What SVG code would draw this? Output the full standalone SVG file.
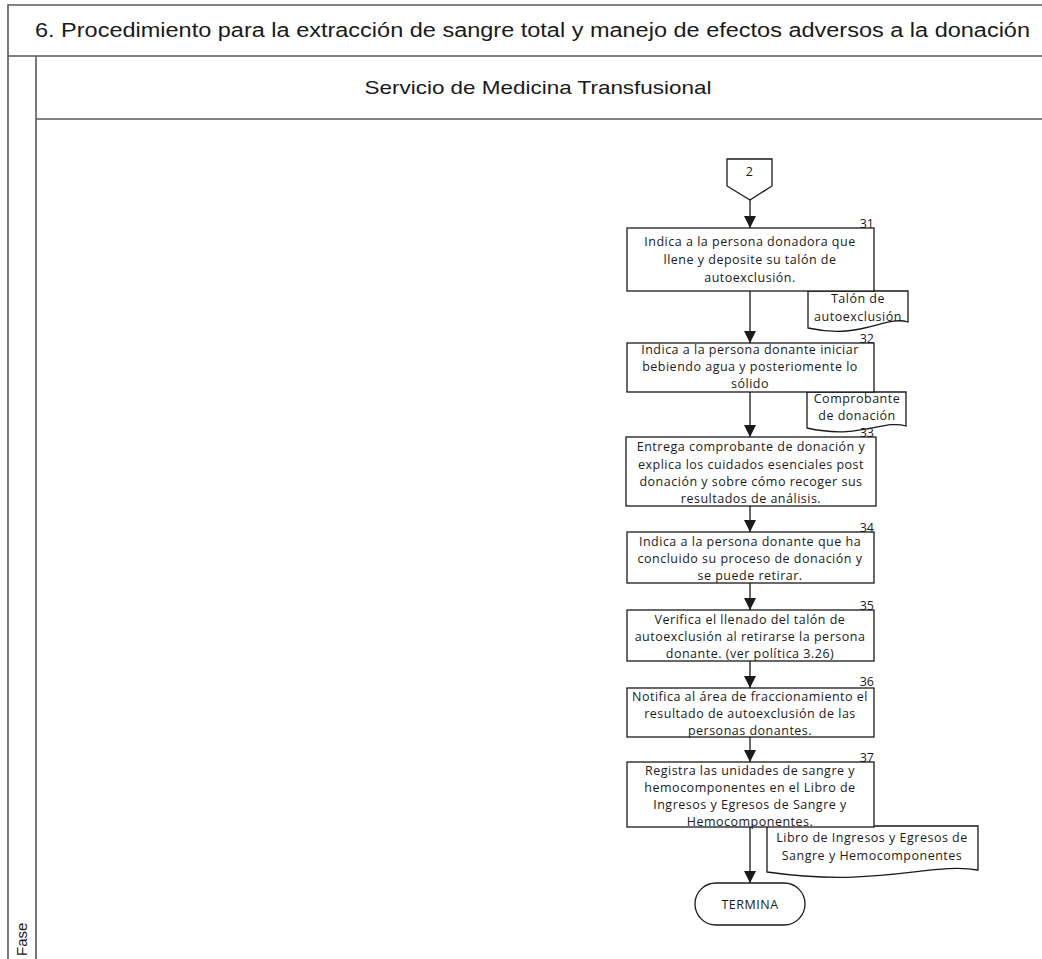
<svg xmlns="http://www.w3.org/2000/svg" width="1042" height="959" viewBox="0 0 1042 959">
<style>
.frame{fill:none;stroke:#595959;stroke-width:1.6}
.box{fill:#fff;stroke:#1a1a1a;stroke-width:1.3}
.doc{fill:#fff;stroke:#1a1a1a;stroke-width:1.3}
.t{font-family:"Open Sans","DejaVu Sans",sans-serif;font-size:12.5px;letter-spacing:0.5px;fill:#1a1a1a;text-anchor:middle}
.n{font-family:"Open Sans","DejaVu Sans",sans-serif;font-size:12.5px;fill:#1a1a1a;text-anchor:end}
.h{font-family:"Liberation Sans",Arial,sans-serif;fill:#1a1a1a}
.c{stroke:#1a1a1a;stroke-width:1.3;fill:none;marker-end:url(#ah)}
</style>
<defs>
<marker id="ah" viewBox="0 0 12 12" refX="12" refY="6" markerWidth="12" markerHeight="12" markerUnits="userSpaceOnUse" orient="auto">
<path d="M0,0 L12,6 L0,12 Z" fill="#1a1a1a"/>
</marker>
</defs>
<rect width="1042" height="959" fill="#fff"/>
<g id="pool">
<path class="frame" d="M8,959 V5 H1042 M8,56 H1042 M36,56 V959 M36,119 H1042"/>
<text class="h" x="35" y="37" font-size="20" textLength="995" lengthAdjust="spacingAndGlyphs">6. Procedimiento para la extracción de sangre total y manejo de efectos adversos a la donación</text>
<text class="h" x="538" y="94" font-size="19" text-anchor="middle" textLength="347" lengthAdjust="spacingAndGlyphs">Servicio de Medicina Transfusional</text>
<text class="h" x="0" y="0" font-size="15" transform="translate(27,956) rotate(-90)">Fase</text>
</g>
<g id="connectors">
<line class="c" x1="750" y1="200" x2="750" y2="228"/>
<line class="c" x1="750" y1="291" x2="750" y2="343"/>
<line class="c" x1="750" y1="392" x2="750" y2="437"/>
<line class="c" x1="750" y1="506" x2="750" y2="532"/>
<line class="c" x1="750" y1="583" x2="750" y2="610"/>
<line class="c" x1="750" y1="661" x2="750" y2="688"/>
<line class="c" x1="750" y1="737" x2="750" y2="762"/>
<line class="c" x1="750" y1="827" x2="750" y2="883"/>
</g>
<g id="off2">
<path class="box" d="M727,159 H772 V186 L750,200 L727,186 Z"/>
<text class="t" x="749.5" y="176">2</text>
</g>
<g id="doc_talon">
<path class="doc" d="M808,291 H908 V322 C885,315 862,340 808,328 Z"/>
<text class="t" x="858" y="303">Talón de</text>
<text class="t" x="858" y="321">autoexclusión</text>
</g>
<g id="step31">
<rect class="box" x="627" y="228" width="247" height="63"/>
<text class="n" x="874" y="228">31</text>
<text class="t" x="750" y="246">Indica a la persona donadora que</text>
<text class="t" x="750" y="264">llene y deposite su talón de</text>
<text class="t" x="750" y="282">autoexclusión.</text>
</g>
<g id="doc_comprobante">
<path class="doc" d="M807,392 H906 V426 C883,419 860,440 807,428 Z"/>
<text class="t" x="857" y="403">Comprobante</text>
<text class="t" x="857" y="420">de donación</text>
</g>
<g id="step32">
<rect class="box" x="627" y="343" width="247" height="49"/>
<text class="n" x="874" y="343">32</text>
<text class="t" x="750" y="354">Indica a la persona donante iniciar</text>
<text class="t" x="750" y="371">bebiendo agua y posteriomente lo</text>
<text class="t" x="750" y="388">sólido</text>
</g>
<g id="step33">
<rect class="box" x="626" y="437" width="250" height="69"/>
<text class="n" x="874" y="437">33</text>
<text class="t" x="751" y="451">Entrega comprobante de donación y</text>
<text class="t" x="751" y="468.5">explica los cuidados esenciales post</text>
<text class="t" x="751" y="486">donación y sobre cómo recoger sus</text>
<text class="t" x="751" y="503">resultados de análisis.</text>
</g>
<g id="step34">
<rect class="box" x="627" y="532" width="247" height="51"/>
<text class="n" x="874" y="532">34</text>
<text class="t" x="750" y="546">Indica a la persona donante que ha</text>
<text class="t" x="750" y="563">concluido su proceso de donación y</text>
<text class="t" x="750" y="580">se puede retirar.</text>
</g>
<g id="step35">
<rect class="box" x="627" y="610" width="247" height="51"/>
<text class="n" x="874" y="610">35</text>
<text class="t" x="750" y="623.5">Verifica el llenado del talón de</text>
<text class="t" x="750" y="640.5">autoexclusión al retirarse la persona</text>
<text class="t" x="750" y="657.5">donante. (ver política 3.26)</text>
</g>
<g id="step36">
<rect class="box" x="627" y="688" width="247" height="49"/>
<text class="n" x="874" y="686">36</text>
<text class="t" x="750" y="701">Notifica al área de fraccionamiento el</text>
<text class="t" x="750" y="718">resultado de autoexclusión de las</text>
<text class="t" x="750" y="735">personas donantes.</text>
</g>
<g id="doc_libro">
<path class="doc" d="M767,826 H978 V870 C930,862 880,888 767,872 Z"/>
<text class="t" x="872" y="841.5">Libro de Ingresos y Egresos de</text>
<text class="t" x="872" y="859.5">Sangre y Hemocomponentes</text>
</g>
<g id="step37">
<rect class="box" x="627" y="762" width="247" height="65"/>
<text class="n" x="874" y="762">37</text>
<text class="t" x="750" y="774.5">Registra las unidades de sangre y</text>
<text class="t" x="750" y="791.5">hemocomponentes en el Libro de</text>
<text class="t" x="750" y="808.5">Ingresos y Egresos de Sangre y</text>
<text class="t" x="750" y="825.5">Hemocomponentes.</text>
</g>
<g id="termina">
<rect class="box" x="695" y="883" width="110" height="42" rx="21" ry="21"/>
<text class="t" x="750" y="908.5">TERMINA</text>
</g>
</svg>
